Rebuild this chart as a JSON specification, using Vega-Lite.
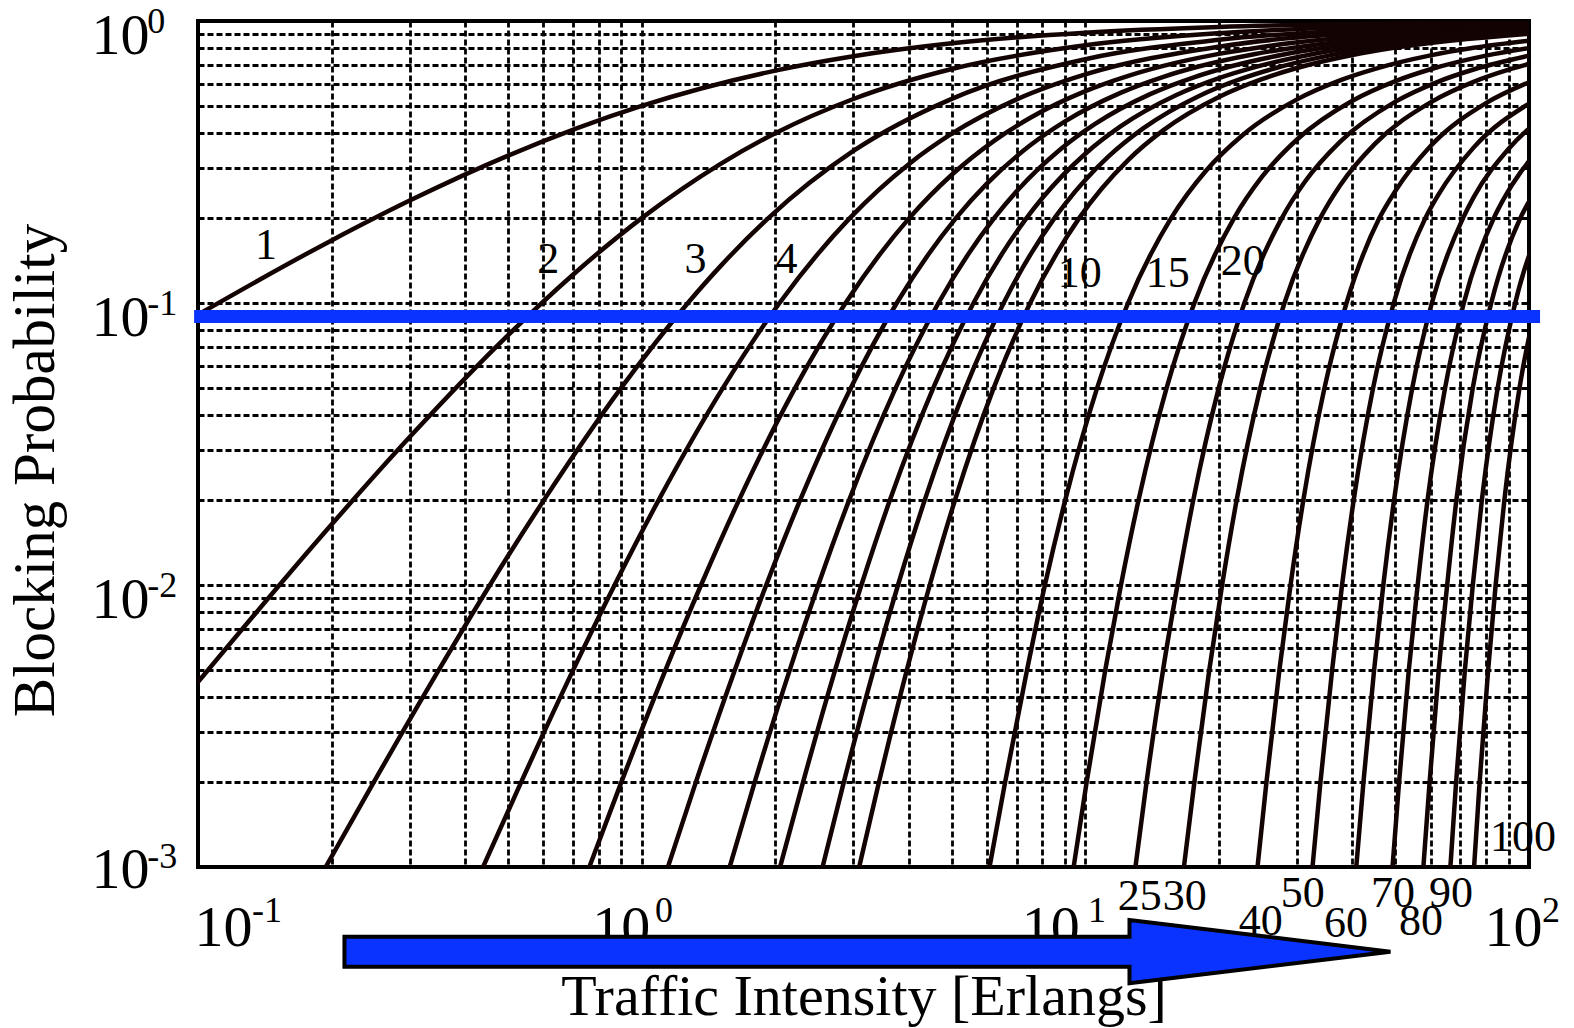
{
  "$schema": "https://vega.github.io/schema/vega-lite/v6.json",
  "width": 1331,
  "height": 846,
  "autosize": "none",
  "padding": {"left": 198, "top": 21, "right": 45, "bottom": 161},
  "background": "white",
  "config": {"view": {"stroke": "black", "strokeWidth": 4}},
  "datasets": {
    "curves": [
      {"n":1,"a":0.05,"b":0.0476},{"n":1,"a":0.1,"b":0.0909},{"n":1,"a":0.2,"b":0.1667},{"n":1,"a":0.3,"b":0.2308},{"n":1,"a":0.5,"b":0.3333},{"n":1,"a":1,"b":0.5},{"n":1,"a":2,"b":0.6667},{"n":1,"a":3,"b":0.75},{"n":1,"a":5,"b":0.8333},{"n":1,"a":10,"b":0.9091},{"n":1,"a":20,"b":0.9524},{"n":1,"a":50,"b":0.9804},{"n":1,"a":100,"b":0.9901},
      {"n":2,"a":0.05,"b":0.001189},{"n":2,"a":0.1,"b":0.004525},{"n":2,"a":0.2,"b":0.01639},{"n":2,"a":0.3,"b":0.03346},{"n":2,"a":0.5,"b":0.07692},{"n":2,"a":0.7,"b":0.126},{"n":2,"a":1,"b":0.2},{"n":2,"a":1.5,"b":0.3103},{"n":2,"a":2,"b":0.4},{"n":2,"a":3,"b":0.529},{"n":2,"a":5,"b":0.6757},{"n":2,"a":10,"b":0.8197},{"n":2,"a":20,"b":0.905},{"n":2,"a":50,"b":0.9608},{"n":2,"a":100,"b":0.9802},
      {"n":3,"a":0.194,"b":0.001},{"n":3,"a":0.249,"b":0.002},{"n":3,"a":0.349,"b":0.005},{"n":3,"a":0.455,"b":0.01},{"n":3,"a":0.602,"b":0.02},{"n":3,"a":0.899,"b":0.05},{"n":3,"a":1.271,"b":0.1},{"n":3,"a":1.5,"b":0.1343},{"n":3,"a":1.93,"b":0.2},{"n":3,"a":3,"b":0.346},{"n":3,"a":5,"b":0.5297},{"n":3,"a":10,"b":0.732},{"n":3,"a":20,"b":0.8578},{"n":3,"a":50,"b":0.9412},{"n":3,"a":100,"b":0.9703},
      {"n":4,"a":0.439,"b":0.001},{"n":4,"a":0.535,"b":0.002},{"n":4,"a":0.701,"b":0.005},{"n":4,"a":0.869,"b":0.01},{"n":4,"a":1.092,"b":0.02},{"n":4,"a":1.525,"b":0.05},{"n":4,"a":2.045,"b":0.1},{"n":4,"a":2.945,"b":0.2},{"n":4,"a":4,"b":0.3107},{"n":4,"a":5,"b":0.3984},{"n":4,"a":7,"b":0.5273},{"n":4,"a":10,"b":0.6466},{"n":4,"a":20,"b":0.8109},{"n":4,"a":50,"b":0.9217},{"n":4,"a":100,"b":0.9604},
      {"n":5,"a":0.762,"b":0.001},{"n":5,"a":0.9,"b":0.002},{"n":5,"a":1.132,"b":0.005},{"n":5,"a":1.361,"b":0.01},{"n":5,"a":1.657,"b":0.02},{"n":5,"a":2.218,"b":0.05},{"n":5,"a":2.881,"b":0.1},{"n":5,"a":4.01,"b":0.2},{"n":5,"a":5,"b":0.2849},{"n":5,"a":6.25,"b":0.3775},{"n":5,"a":7.5,"b":0.453},{"n":5,"a":10,"b":0.564},{"n":5,"a":12.5,"b":0.6394},{"n":5,"a":15,"b":0.6932},{"n":5,"a":20,"b":0.7644},{"n":5,"a":25,"b":0.809},{"n":5,"a":50,"b":0.9021},{"n":5,"a":100,"b":0.9505},
      {"n":6,"a":1.146,"b":0.001},{"n":6,"a":1.325,"b":0.002},{"n":6,"a":1.622,"b":0.005},{"n":6,"a":1.909,"b":0.01},{"n":6,"a":2.276,"b":0.02},{"n":6,"a":2.96,"b":0.05},{"n":6,"a":3.758,"b":0.1},{"n":6,"a":5.109,"b":0.2},{"n":6,"a":6,"b":0.2649},{"n":6,"a":7.5,"b":0.3616},{"n":6,"a":9,"b":0.4405},{"n":6,"a":12,"b":0.5561},{"n":6,"a":15,"b":0.6341},{"n":6,"a":18,"b":0.6895},{"n":6,"a":24,"b":0.7622},{"n":6,"a":30,"b":0.8076},{"n":6,"a":60,"b":0.9018},{"n":6,"a":100,"b":0.9406},
      {"n":7,"a":1.579,"b":0.001},{"n":7,"a":1.798,"b":0.002},{"n":7,"a":2.157,"b":0.005},{"n":7,"a":2.501,"b":0.01},{"n":7,"a":2.935,"b":0.02},{"n":7,"a":3.738,"b":0.05},{"n":7,"a":4.666,"b":0.1},{"n":7,"a":6.23,"b":0.2},{"n":7,"a":7,"b":0.2489},{"n":7,"a":8.75,"b":0.3488},{"n":7,"a":10.5,"b":0.4306},{"n":7,"a":14,"b":0.5502},{"n":7,"a":17.5,"b":0.6301},{"n":7,"a":21,"b":0.6867},{"n":7,"a":28,"b":0.7606},{"n":7,"a":35,"b":0.8066},{"n":7,"a":70,"b":0.9015},{"n":7,"a":100,"b":0.9307},
      {"n":8,"a":2.051,"b":0.001},{"n":8,"a":2.311,"b":0.002},{"n":8,"a":2.73,"b":0.005},{"n":8,"a":3.128,"b":0.01},{"n":8,"a":3.627,"b":0.02},{"n":8,"a":4.543,"b":0.05},{"n":8,"a":5.597,"b":0.1},{"n":8,"a":7.369,"b":0.2},{"n":8,"a":8,"b":0.2356},{"n":8,"a":10,"b":0.3383},{"n":8,"a":12,"b":0.4227},{"n":8,"a":16,"b":0.5452},{"n":8,"a":20,"b":0.627},{"n":8,"a":24,"b":0.6846},{"n":8,"a":32,"b":0.7594},{"n":8,"a":40,"b":0.8058},{"n":8,"a":80,"b":0.9013},{"n":8,"a":100,"b":0.9208},
      {"n":9,"a":2.557,"b":0.001},{"n":9,"a":2.855,"b":0.002},{"n":9,"a":3.333,"b":0.005},{"n":9,"a":3.783,"b":0.01},{"n":9,"a":4.345,"b":0.02},{"n":9,"a":5.37,"b":0.05},{"n":9,"a":6.546,"b":0.1},{"n":9,"a":8.522,"b":0.2},{"n":9,"a":9,"b":0.2242},{"n":9,"a":11.25,"b":0.3295},{"n":9,"a":13.5,"b":0.416},{"n":9,"a":18,"b":0.5413},{"n":9,"a":22.5,"b":0.6245},{"n":9,"a":27,"b":0.6828},{"n":9,"a":36,"b":0.7584},{"n":9,"a":45,"b":0.8052},{"n":9,"a":90,"b":0.9012},{"n":9,"a":100,"b":0.911},
      {"n":10,"a":3.092,"b":0.001},{"n":10,"a":3.427,"b":0.002},{"n":10,"a":3.961,"b":0.005},{"n":10,"a":4.461,"b":0.01},{"n":10,"a":5.084,"b":0.02},{"n":10,"a":6.216,"b":0.05},{"n":10,"a":7.511,"b":0.1},{"n":10,"a":9.685,"b":0.2},{"n":10,"a":12.5,"b":0.322},{"n":10,"a":15,"b":0.4104},{"n":10,"a":20,"b":0.538},{"n":10,"a":25,"b":0.6224},{"n":10,"a":30,"b":0.6813},{"n":10,"a":40,"b":0.7577},{"n":10,"a":50,"b":0.8047},{"n":10,"a":100,"b":0.9011},
      {"n":15,"a":6.083,"b":0.001},{"n":15,"a":6.595,"b":0.002},{"n":15,"a":7.39,"b":0.005},{"n":15,"a":8.108,"b":0.01},{"n":15,"a":9.01,"b":0.02},{"n":15,"a":10.633,"b":0.05},{"n":15,"a":12.484,"b":0.1},{"n":15,"a":15.608,"b":0.2},{"n":15,"a":18.75,"b":0.2958},{"n":15,"a":22.5,"b":0.3912},{"n":15,"a":30,"b":0.5273},{"n":15,"a":37.5,"b":0.616},{"n":15,"a":45,"b":0.6768},{"n":15,"a":60,"b":0.7553},{"n":15,"a":75,"b":0.8032},{"n":15,"a":100,"b":0.8517},
      {"n":20,"a":9.411,"b":0.001},{"n":20,"a":10.068,"b":0.002},{"n":20,"a":11.092,"b":0.005},{"n":20,"a":12.031,"b":0.01},{"n":20,"a":13.182,"b":0.02},{"n":20,"a":15.249,"b":0.05},{"n":20,"a":17.613,"b":0.1},{"n":20,"a":21.639,"b":0.2},{"n":20,"a":25,"b":0.2799},{"n":20,"a":30,"b":0.38},{"n":20,"a":40,"b":0.5214},{"n":20,"a":50,"b":0.6121},{"n":20,"a":60,"b":0.6744},{"n":20,"a":80,"b":0.754},{"n":20,"a":100,"b":0.8024},
      {"n":25,"a":12.97,"b":0.001},{"n":25,"a":13.74,"b":0.002},{"n":25,"a":14.97,"b":0.005},{"n":25,"a":16.13,"b":0.01},{"n":25,"a":17.51,"b":0.02},{"n":25,"a":19.99,"b":0.05},{"n":25,"a":22.83,"b":0.1},{"n":25,"a":27.73,"b":0.2},{"n":25,"a":31.25,"b":0.269},{"n":25,"a":37.5,"b":0.3726},{"n":25,"a":50,"b":0.5175},{"n":25,"a":62.5,"b":0.6099},{"n":25,"a":75,"b":0.673},{"n":25,"a":100,"b":0.7532},
      {"n":30,"a":16.68,"b":0.001},{"n":30,"a":17.61,"b":0.002},{"n":30,"a":19.03,"b":0.005},{"n":30,"a":20.34,"b":0.01},{"n":30,"a":21.93,"b":0.02},{"n":30,"a":24.8,"b":0.05},{"n":30,"a":28.11,"b":0.1},{"n":30,"a":33.84,"b":0.2},{"n":30,"a":37.5,"b":0.261},{"n":30,"a":45,"b":0.3674},{"n":30,"a":60,"b":0.5148},{"n":30,"a":75,"b":0.6083},{"n":30,"a":90,"b":0.672},{"n":30,"a":100,"b":0.7041},
      {"n":40,"a":24.44,"b":0.001},{"n":40,"a":25.6,"b":0.002},{"n":40,"a":27.38,"b":0.005},{"n":40,"a":29.01,"b":0.01},{"n":40,"a":31,"b":0.02},{"n":40,"a":34.6,"b":0.05},{"n":40,"a":38.79,"b":0.1},{"n":40,"a":46,"b":0.2},{"n":40,"a":50,"b":0.2498},{"n":40,"a":60,"b":0.3602},{"n":40,"a":80,"b":0.5115},{"n":40,"a":100,"b":0.6065},
      {"n":50,"a":32.51,"b":0.001},{"n":50,"a":33.88,"b":0.002},{"n":50,"a":36,"b":0.005},{"n":50,"a":37.9,"b":0.01},{"n":50,"a":40.26,"b":0.02},{"n":50,"a":44.53,"b":0.05},{"n":50,"a":49.56,"b":0.1},{"n":50,"a":58.4,"b":0.2},{"n":50,"a":62.5,"b":0.2423},{"n":50,"a":75,"b":0.3556},{"n":50,"a":100,"b":0.5094},
      {"n":60,"a":40.8,"b":0.001},{"n":60,"a":42.35,"b":0.002},{"n":60,"a":44.76,"b":0.005},{"n":60,"a":46.95,"b":0.01},{"n":60,"a":49.64,"b":0.02},{"n":60,"a":54.57,"b":0.05},{"n":60,"a":60.4,"b":0.1},{"n":60,"a":71,"b":0.2},{"n":60,"a":75,"b":0.2369},{"n":60,"a":90,"b":0.3523},{"n":60,"a":120,"b":0.508},
      {"n":70,"a":49.25,"b":0.001},{"n":70,"a":50.95,"b":0.002},{"n":70,"a":53.6,"b":0.005},{"n":70,"a":56.11,"b":0.01},{"n":70,"a":59.07,"b":0.02},{"n":70,"a":64.7,"b":0.05},{"n":70,"a":71.3,"b":0.1},{"n":70,"a":83.3,"b":0.2},{"n":70,"a":87.5,"b":0.2325},{"n":70,"a":105,"b":0.35},
      {"n":80,"a":57.8,"b":0.001},{"n":80,"a":59.7,"b":0.002},{"n":80,"a":62.6,"b":0.005},{"n":80,"a":65.4,"b":0.01},{"n":80,"a":68.6,"b":0.02},{"n":80,"a":74.7,"b":0.05},{"n":80,"a":82.2,"b":0.1},{"n":80,"a":95.6,"b":0.2},{"n":80,"a":100,"b":0.229},{"n":80,"a":120,"b":0.35},
      {"n":90,"a":66.5,"b":0.001},{"n":90,"a":68.5,"b":0.002},{"n":90,"a":71.7,"b":0.005},{"n":90,"a":74.7,"b":0.01},{"n":90,"a":78.3,"b":0.02},{"n":90,"a":85,"b":0.05},{"n":90,"a":93.1,"b":0.1},{"n":90,"a":108,"b":0.2},
      {"n":100,"a":75.2,"b":0.001},{"n":100,"a":77.4,"b":0.002},{"n":100,"a":80.9,"b":0.005},{"n":100,"a":84.1,"b":0.01},{"n":100,"a":88,"b":0.02},{"n":100,"a":95.2,"b":0.05},{"n":100,"a":104.1,"b":0.1},{"n":100,"a":121,"b":0.2}
    ],
    "labels": [
      {"t":"1","a":0.1423,"b":0.1593},{"t":"2","a":0.6159,"b":0.1421},{"t":"3","a":1.322,"b":0.1421},{"t":"4","a":2.12,"b":0.1421},
      {"t":"10","a":9.71,"b":0.1267},{"t":"15","a":15.34,"b":0.1267},{"t":"20","a":22.63,"b":0.1397},
      {"t":"25","a":13.26,"b":0.000783},{"t":"30","a":16.75,"b":0.000783},{"t":"40","a":24.86,"b":0.000638},
      {"t":"50","a":30.92,"b":0.000802},{"t":"60","a":38.66,"b":0.000628},{"t":"70","a":49.34,"b":0.000802},
      {"t":"80","a":57.07,"b":0.000638},{"t":"90","a":66.7,"b":0.000802},{"t":"100","a":96.9,"b":0.001267}
    ],
    "exponents": [
      {"t":"-1","a":0.1323,"b":0.000638},{"t":"0","a":1.072,"b":0.000638},{"t":"1","a":10.14,"b":0.000638},{"t":"2","a":106.98,"b":0.000638},
      {"t":"0","a":0.0768,"b":0.9066},{"t":"-1","a":0.0768,"b":0.0907},{"t":"-2","a":0.0768,"b":0.00907},{"t":"-3","a":0.0768,"b":0.000992}
    ]
  },
  "layer": [
    {
      "data": {"name": "curves"},
      "mark": {"type": "line", "clip": true, "interpolate": "monotone", "color": "#140303", "strokeWidth": 4.5},
      "encoding": {
        "x": {
          "field": "a", "type": "quantitative",
          "scale": {"type": "log", "domain": [0.1, 100], "nice": false},
          "axis": {
            "title": "Traffic Intensity [Erlangs]",
            "values": [0.1,0.2,0.3,0.4,0.5,0.6,0.7,0.8,0.9,1,2,3,4,5,6,7,8,9,10,20,30,40,50,60,70,80,90,100],
            "labelExpr": "(datum.value == 0.1 || datum.value == 1 || datum.value == 10 || datum.value == 100) ? '10' : ''",
            "labelFont": "Liberation Serif", "labelFontSize": 58, "labelColor": "black",
            "labelBaseline": "alphabetic", "labelPadding": 78, "labelOverlap": false, "labelFlush": false,
            "labelAlign": "right",
            "labelOffset": {"condition": [{"test": "datum.value == 0.1", "value": 54}, {"test": "datum.value == 1", "value": 8}, {"test": "datum.value == 10", "value": -6}, {"test": "datum.value == 100", "value": 13}], "value": 0},
            "grid": true, "gridColor": "black", "gridDash": [6, 3], "gridWidth": 2.8, "gridOpacity": 1,
            "domain": false, "ticks": false, "tickSize": 0, "zindex": 0,
            "titleFont": "Liberation Serif", "titleFontSize": 58, "titleFontWeight": "normal", "titleColor": "black",
            "titleBaseline": "alphabetic", "titleY": 147
          }
        },
        "y": {
          "field": "b", "type": "quantitative",
          "scale": {"type": "log", "domain": [0.001, 1], "nice": false},
          "axis": {
            "title": "Blocking Probability",
            "values": [0.001,0.002,0.003,0.004,0.005,0.006,0.007,0.008,0.009,0.01,0.02,0.03,0.04,0.05,0.06,0.07,0.08,0.09,0.1,0.2,0.3,0.4,0.5,0.6,0.7,0.8,0.9,1],
            "labelExpr": "(datum.value == 1 || datum.value == 0.1 || datum.value == 0.01 || datum.value == 0.001) ? '10' : ''",
            "labelFont": "Liberation Serif", "labelFontSize": 58, "labelColor": "black",
            "labelBaseline": "alphabetic", "labelPadding": 49, "labelOverlap": false, "labelFlush": false,
            "labelAlign": "right",
            "labelOffset": {"condition": {"test": "datum.value == 0.001", "value": 20}, "value": 32},
            "grid": true, "gridColor": "black", "gridDash": [6, 3], "gridWidth": 2.8, "gridOpacity": 1,
            "domain": false, "ticks": false, "tickSize": 0, "zindex": 0,
            "titleFont": "Liberation Serif", "titleFontSize": 59, "titleFontWeight": "normal", "titleColor": "black",
            "titleBaseline": "alphabetic", "titleAlign": "center", "titleX": -145, "titleY": 449
          }
        },
        "detail": {"field": "n", "type": "nominal"}
      }
    },
    {
      "data": {"values": [{}]},
      "mark": {"type": "rule", "color": "#0a33ff", "strokeWidth": 13, "clip": false},
      "encoding": {"x": {"datum": 0.098}, "x2": {"datum": 105.9}, "y": {"datum": 0.0895}}
    },
    {
      "data": {"name": "exponents"},
      "mark": {"type": "text", "font": "Liberation Serif", "fontSize": 36, "color": "black", "align": "left", "baseline": "alphabetic", "clip": false},
      "encoding": {
        "x": {"field": "a", "type": "quantitative"},
        "y": {"field": "b", "type": "quantitative"},
        "text": {"field": "t"}
      }
    },
    {
      "data": {"name": "labels"},
      "mark": {"type": "text", "font": "Liberation Serif", "fontSize": 44, "color": "black", "align": "center", "baseline": "middle", "clip": false},
      "encoding": {
        "x": {"field": "a", "type": "quantitative"},
        "y": {"field": "b", "type": "quantitative"},
        "text": {"field": "t"}
      }
    },
    {
      "data": {"values": [{}]},
      "mark": {
        "type": "point",
        "shape": "M -1 -0.0287 L 0.501 -0.0287 L 0.501 -0.0604 L 1 0 L 0.501 0.0604 L 0.501 0.0287 L -1 0.0287 Z",
        "size": 1094116, "filled": true, "fill": "#0a33ff", "stroke": "black", "strokeWidth": 4,
        "opacity": 1, "fillOpacity": 1, "strokeOpacity": 1, "clip": false
      },
      "encoding": {"x": {"datum": 3.228}, "y": {"datum": 0.000501}}
    }
  ]
}
